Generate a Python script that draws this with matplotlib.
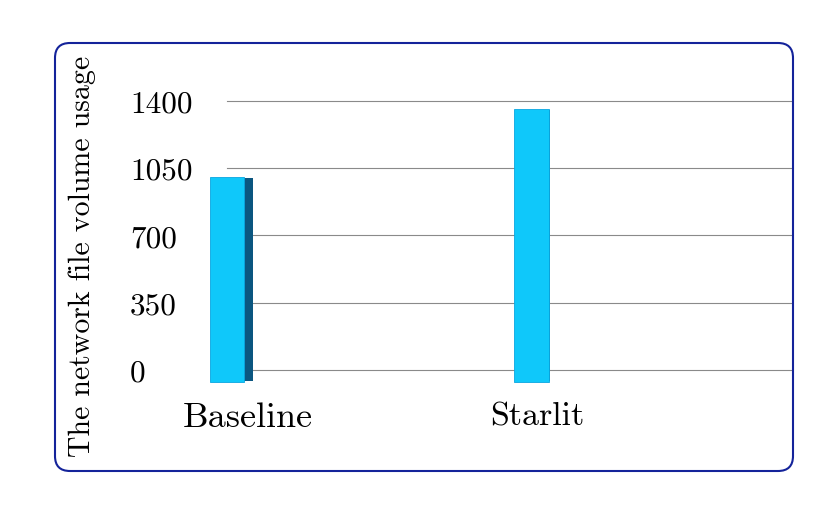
import matplotlib
matplotlib.use("Agg")
import matplotlib.pyplot as plt
from matplotlib.patches import FancyBboxPatch
from matplotlib.transforms import ScaledTranslation

plt.rcParams['font.family'] = ['cmr10', 'DejaVu Serif']
plt.rcParams['axes.unicode_minus'] = False

categories = ["Baseline", "Starlit"]
values = [1003, 1357]
yticks = [0, 350, 700, 1050, 1400]
ylabel = "The network file volume usage"

fig = plt.figure(figsize=(8.3, 5.15), dpi=100)
ax = fig.add_axes([180/830, (515-400)/515, 613/830, 320/515])

x = list(range(len(categories)))
bar_w = 0.112
side_w = [0.028, 0.004]
base_off = 62
front = '#0fc8fa'
side = '#0b5680'

# gridlines (from first bar centre to right)
for t in yticks:
    ax.plot([0, 1.86], [t, t], color='#8a8a8a', lw=0.8, zorder=1)

for i, v in enumerate(values):
    ax.bar(x[i] + bar_w/2 + side_w[i]/2, v + base_off - 12, bottom=-base_off + 6,
           width=side_w[i], color=side, zorder=2, linewidth=0)
    ax.bar(x[i], v + base_off, bottom=-base_off, width=bar_w, color=front,
           edgecolor='#0aa6e0', linewidth=0.6, zorder=3)

ax.set_xlim(-0.156, 1.86)
ax.set_ylim(-156, 1507.6)
ax.set_yticks(yticks)
ax.set_yticklabels([str(t) for t in yticks], fontsize=22.5, ha='left')
ax.tick_params(axis='y', length=0, pad=36)
ax.set_xticks(x)
ax.set_xticklabels(categories, fontsize=24.5)
ax.tick_params(axis='x', length=0, pad=2)
label_dx = [20, 5.5]
label_fs = [26, 24.5]
for lab, dx, fs in zip(ax.get_xticklabels(), label_dx, label_fs):
    lab.set_fontsize(fs)
    lab.set_transform(lab.get_transform() + ScaledTranslation(dx/100, 0, fig.dpi_scale_trans))
for lab in ax.get_yticklabels():
    lab.set_transform(lab.get_transform() + ScaledTranslation(0, -1/100, fig.dpi_scale_trans))
for s in ax.spines.values():
    s.set_visible(False)
ax.patch.set_alpha(0)

box = FancyBboxPatch((0.55, 0.44), 7.38, 4.28, boxstyle="round,pad=0,rounding_size=0.15",
                     transform=fig.dpi_scale_trans, fill=False, edgecolor='#14239a',
                     linewidth=1.5, zorder=0)
fig.patches.append(box)

fig.text(82/830, (515-256)/515, ylabel, rotation=90, fontsize=21.5, ha='center', va='center')

fig.savefig("out.png", dpi=100)
